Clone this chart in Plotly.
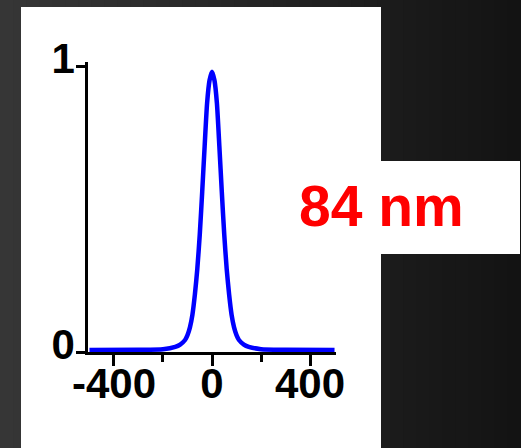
import plotly.graph_objects as go

# Data (wavelength offset in nm vs normalized intensity)
offset_nm = [-500, -300, -200, -150, -130, -110, -100, -90, -80, -70, -60, -50, -40, -30, -20, -10,
             0, 10, 20, 30, 40, 50, 60, 70, 80, 90, 100, 110, 130, 150, 200, 300, 500]
intensity = [0.007, 0.008, 0.010, 0.018, 0.026, 0.042, 0.059, 0.086, 0.13, 0.20, 0.29, 0.41, 0.56,
             0.72, 0.87, 0.95, 0.98, 0.95, 0.87, 0.72, 0.56, 0.41, 0.29, 0.20, 0.13, 0.086, 0.059,
             0.042, 0.026, 0.018, 0.010, 0.008, 0.007]
x_ticks = [-400, 0, 400]
y_ticks = [0, 1]
label_text = "84 nm"

W, H = 521, 448
tick_font = dict(family="Liberation Sans, Arial", size=42, color="black", weight="bold")

fig = go.Figure()
fig.add_trace(go.Scatter(x=offset_nm, y=intensity, mode="lines",
                         line=dict(color="#0000ff", width=4.5, shape="spline", smoothing=0.6),
                         hoverinfo="skip", showlegend=False))

# background gradient strips
shapes = []
n = 40
for i in range(n):
    t = i / (n - 1)
    c = int(round(0x36 + (0x13 - 0x36) * t))
    shapes.append(dict(type="rect", xref="paper", yref="paper", x0=i / n, x1=(i + 1) / n + 0.002,
                       y0=0, y1=1, fillcolor=f"rgb({c},{c},{c})", line=dict(width=0), layer="below"))
# white panel
shapes.append(dict(type="rect", xref="paper", yref="paper", x0=21 / W, x1=381 / W,
                   y0=0, y1=1 - 7 / H, fillcolor="white", line=dict(width=0), layer="below"))
# white label box
shapes.append(dict(type="rect", xref="paper", yref="paper", x0=381 / W, x1=520 / W,
                   y0=1 - 254 / H, y1=1 - 161 / H, fillcolor="white", line=dict(width=0), layer="below"))

fig.update_layout(
    width=W, height=H, autosize=False,
    margin=dict(l=0, r=0, t=0, b=0, pad=0),
    paper_bgcolor="#1e1e1e", plot_bgcolor="rgba(0,0,0,0)",
    shapes=shapes,
    xaxis=dict(domain=[88 / W, 336 / W], range=[-506, 506], tickvals=x_ticks,
               ticktext=[str(v) for v in x_ticks], ticks="outside", ticklen=11, tickwidth=2.5,
               tickcolor="black", showline=True, linecolor="black", linewidth=2.7,
               showgrid=False, zeroline=False, tickfont=tick_font, layer="below traces",
               automargin=False, ticklabelstandoff=-18,
               minor=dict(tickvals=[-200, 200], ticks="outside", ticklen=7, tickwidth=2.5,
                          tickcolor="black", showgrid=False)),
    yaxis=dict(domain=[(H - 352) / H, (H - 62) / H], range=[0, 1.014], tickvals=y_ticks,
               ticks="outside", ticklen=9, tickwidth=2.5, tickcolor="black",
               showline=True, linecolor="black", linewidth=2.7, showgrid=False,
               zeroline=False, tickfont=tick_font, layer="below traces", automargin=False,
               ticklabelstandoff=-7, ticklabelshift=-8),
    annotations=[dict(text=label_text, xref="paper", yref="paper", x=381.5 / W, y=1 - 206 / H,
                      xanchor="center", yanchor="middle", showarrow=False,
                      font=dict(family="Liberation Sans, Arial", size=57, color="#ff0000",
                                weight="bold"))],
)

fig.write_html("out.html")
